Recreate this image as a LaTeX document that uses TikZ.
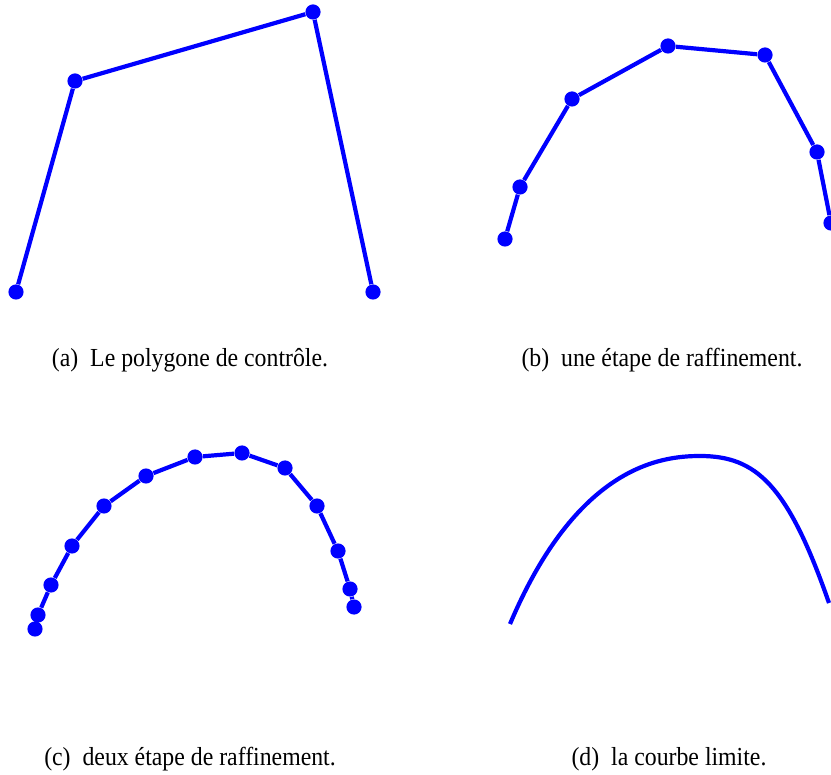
\documentclass[tikz,border=0pt]{standalone}
\usepackage{fontspec}
\setmainfont{Liberation Serif}
\newcommand{\capfit}[1]{\scalebox{0.915}[1]{#1}}
\begin{document}
\begin{tikzpicture}[x=0.5pt,y=-0.5pt,
  dot/.style={circle,fill=blue,draw=none,inner sep=0pt,minimum size=7.6pt},
  seg/.style={blue,line width=2.1pt},
  limitcurve/.style={blue,line width=2.1pt},
  captext/.style={anchor=base,inner sep=0pt,font=\fontsize{13}{15}\selectfont}]
\useasboundingbox (0,0) rectangle (831,775);
\clip (0,0) rectangle (831,775);
% (a) control polygon
\foreach \n/\p in {0/{(16,292)},1/{(75,81)},2/{(313,12)},3/{(373,292)}}
  \node[dot] (a\n) at \p {};
\draw[seg] (a0) -- (a1) -- (a2) -- (a3);
% (b) one refinement step
\foreach \n/\p in {0/{(505,239)},1/{(520,187)},2/{(572,99)},3/{(668,46)},4/{(765,55)},5/{(817,152)},6/{(831,223)}}
  \node[dot] (b\n) at \p {};
\draw[seg] (b0) -- (b1) -- (b2) -- (b3) -- (b4) -- (b5) -- (b6);
% (c) two refinement steps
\foreach \n/\p in {0/{(35,629)},1/{(38,615)},2/{(51,585)},3/{(72,546)},4/{(104,506)},5/{(146,476)},6/{(195,457)},7/{(242,453)},8/{(285,468)},9/{(317,506)},10/{(338,551)},11/{(350,589)},12/{(354,607)}}
  \node[dot] (c\n) at \p {};
\draw[seg] (c0) -- (c1) -- (c2) -- (c3) -- (c4) -- (c5) -- (c6) -- (c7) -- (c8) -- (c9) -- (c10) -- (c11) -- (c12);
% (d) limit curve
\coordinate (d0) at (510,624);
\coordinate (d1) at (700,456);
\coordinate (d2) at (829,603);
\draw[limitcurve] (d0) .. controls (576.7,466.7) and (660,456) .. (d1)
  .. controls (756,456) and (787.7,484.3) .. (d2);
% captions
\node[captext] (capa) at (190,367) {\capfit{(a)\hspace{0.5em}Le polygone de contrôle.}};
\node[captext] (capb) at (662,367) {\capfit{(b)\hspace{0.5em}une étape de raffinement.}};
\node[captext] (capc) at (190,765) {\capfit{(c)\hspace{0.5em}deux étape de raffinement.}};
\node[captext] (capd) at (669,765) {\capfit{(d)\hspace{0.5em}la courbe limite.}};
\end{tikzpicture}
\end{document}
